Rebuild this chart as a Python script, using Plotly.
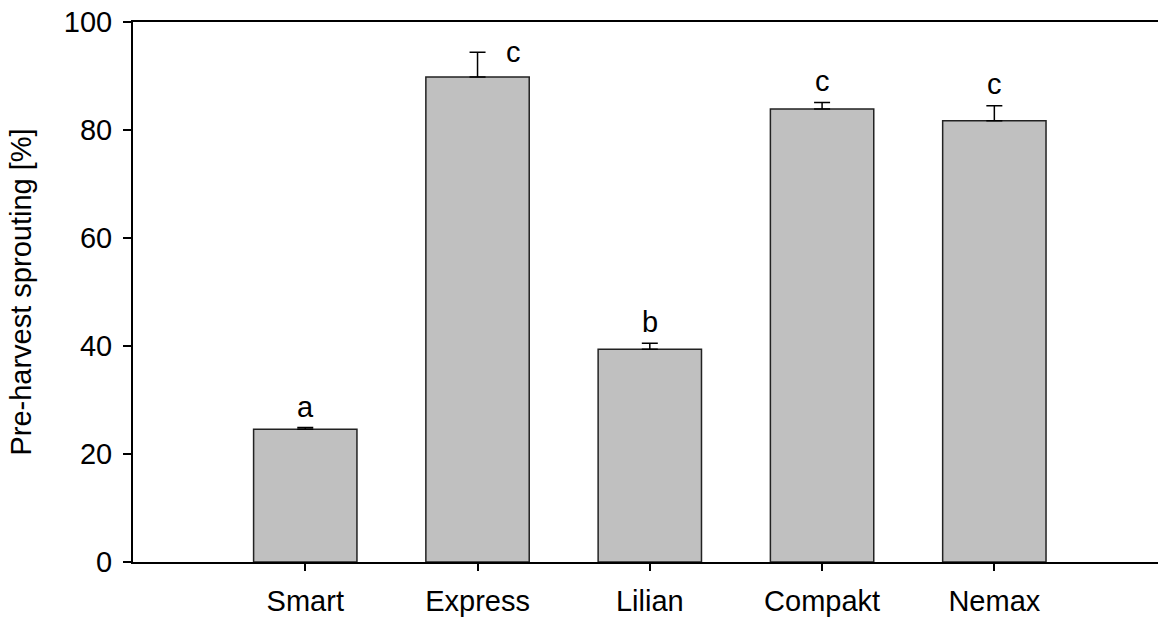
import plotly.graph_objects as go

categories = ["Smart", "Express", "Lilian", "Compakt", "Nemax"]
means = [24.6, 89.8, 39.4, 83.9, 81.7]
errors = [0.3, 4.6, 1.1, 1.2, 2.8]
letters = ["a", "c", "b", "c", "c"]
letter_y = [28.7, 94.5, 44.5, 89.0, 88.5]
letter_xshift = [0, 36, 0, 0, 0]

FONT = "Liberation Sans, Arial, sans-serif"
FS = 29

fig = go.Figure()
fig.add_trace(go.Bar(
    x=categories, y=means,
    marker=dict(color="#c0c0c0", line=dict(color="#222222", width=1.5)),
    error_y=dict(type="data", array=errors, arrayminus=[0] * len(errors),
                 symmetric=False, color="#000000", thickness=1.5, width=8),
    showlegend=False,
))

for c, t, yv, xs in zip(categories, letters, letter_y, letter_xshift):
    fig.add_annotation(x=c, y=yv, text=t, showarrow=False, xshift=xs,
                       font=dict(family=FONT, size=FS, color="#000000"),
                       xanchor="center", yanchor="middle")

fig.update_layout(
    width=1158, height=617,
    margin=dict(l=133, r=0, t=22, b=55, autoexpand=False),
    paper_bgcolor="white", plot_bgcolor="white",
    bargap=0.4,
    font=dict(family=FONT, size=FS, color="#000000"),
    xaxis=dict(
        type="category", range=[-1, 4.95], automargin=False,
        showline=True, linecolor="#000000", linewidth=2, mirror=True,
        ticks="outside", ticklen=7, tickwidth=1.5, tickcolor="#000000",
        showgrid=False, zeroline=False,
        tickfont=dict(family=FONT, size=FS, color="#000000"),
        ticklabelstandoff=5,
    ),
    yaxis=dict(
        range=[0, 100], tickmode="array", tickvals=[0, 20, 40, 60, 80, 100],
        automargin=False, ticklabeloverflow="allow",
        showline=True, linecolor="#000000", linewidth=2, mirror=False,
        ticks="outside", ticklen=8, tickwidth=1.5, tickcolor="#000000",
        showgrid=False, zeroline=False,
        tickfont=dict(family=FONT, size=FS, color="#000000"),
        ticklabelstandoff=5,
        title=dict(text="Pre-harvest sprouting [%]", standoff=24,
                   font=dict(family=FONT, size=FS, color="#000000")),
    ),
)

fig.write_html(
    "out.html",
    config={"displayModeBar": False},
    post_script="document.body.style.margin='0';document.body.style.overflow='hidden';",
)
